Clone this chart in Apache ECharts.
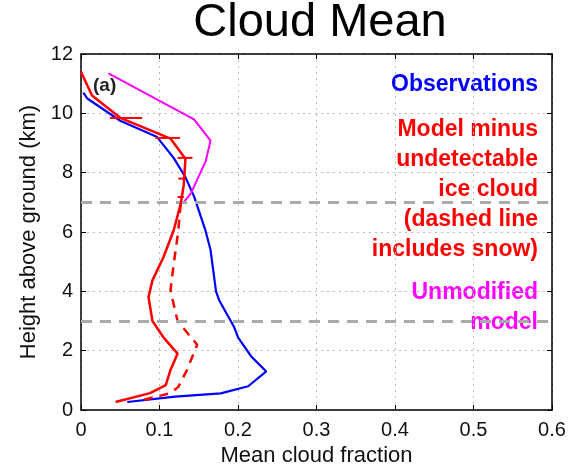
<!DOCTYPE html>
<html>
<head>
<meta charset="utf-8">
<script src="https://cdn.jsdelivr.net/npm/echarts@6/dist/echarts.min.js"></script>
<style>
html,body{margin:0;padding:0;background:#fff;}
#chart{width:573px;height:472px;}
</style>
</head>
<body>
<div id="chart"></div>
<script>
// ---- data (x = mean cloud fraction, y = height km) ----
var obsX = [0.003, 0.008, 0.05, 0.097, 0.118, 0.133, 0.144, 0.158, 0.165, 0.172, 0.176, 0.195, 0.2, 0.217, 0.236, 0.213, 0.178, 0.12, 0.059];
var obsY = [10.7, 10.5, 9.75, 9.2, 8.5, 7.85, 7.2, 6.1, 5.4, 4.0, 3.7, 2.8, 2.45, 1.8, 1.3, 0.8, 0.56, 0.45, 0.27];

var modX = [0.0, 0.014, 0.05, 0.114, 0.133, 0.131, 0.127, 0.118, 0.105, 0.091, 0.086, 0.091, 0.105, 0.123, 0.114, 0.108, 0.088, 0.044];
var modY = [11.4, 10.6, 9.85, 9.15, 8.47, 7.6, 6.95, 6.05, 5.15, 4.37, 3.8, 3.0, 2.45, 1.9, 1.35, 0.84, 0.57, 0.27];

var snowX = [0.127, 0.124, 0.118, 0.114, 0.123, 0.148, 0.135, 0.124, 0.114, 0.072];
var snowY = [6.95, 6.05, 4.9, 4.03, 3.0, 2.2, 1.35, 0.78, 0.57, 0.29];

var unmodX = [0.035, 0.144, 0.165, 0.159, 0.14, 0.129];
var unmodY = [11.35, 9.8, 9.08, 8.4, 7.3, 6.95];

var errY  = [9.84, 9.17, 8.5, 7.8, 7.18];
var errLo = [0.037, 0.095, 0.123, 0.124, 0.123];
var errHi = [0.078, 0.126, 0.142, 0.133, 0.131];

var refLines = [7, 3];

var xTicks = [0, 0.1, 0.2, 0.3, 0.4, 0.5, 0.6];
var yTicks = [0, 2, 4, 6, 8, 10, 12];

var titleText = 'Cloud Mean';
var xName = 'Mean cloud fraction';
var yName = 'Height above ground (km)';
var panelText = '(a)';
var obsLabel = ['Observations'];
var modLabel = ['Model minus', 'undetectable', 'ice cloud', '(dashed line', 'includes snow)'];
var unmodLabel = ['Unmodified', 'model'];

function pairs(xs, ys){ return xs.map(function(x,i){ return [x, ys[i]]; }); }

var FONT = "'Liberation Sans', Arial, Helvetica, sans-serif";
var chart = echarts.init(document.getElementById('chart'), null, {renderer:'canvas'});

var grid = {left:81, right:21, top:54, bottom:61, show:false};

function textEl(txt, x, y, color, size, weight, align){
  return {type:'text', x:x, y:y, style:{text:txt, fill:color, font:(weight||'normal')+' '+size+'px '+FONT, textAlign:align||'right', textVerticalAlign:'middle'}};
}

var graphics = [];
graphics.push(textEl(titleText, 320, 23, '#000', 47, 'normal', 'center'));
graphics.push(textEl(panelText, 93, 86, '#222', 19, 'bold', 'left'));
obsLabel.forEach(function(t,i){ graphics.push(textEl(t, 538, 85 + i*30, '#0000ff', 23, 'bold')); });
modLabel.forEach(function(t,i){ graphics.push(textEl(t, 538, 130 + i*30, '#ff0000', 23, 'bold')); });
unmodLabel.forEach(function(t,i){ graphics.push(textEl(t, 538, 293 + i*30, '#ff00ff', 23, 'bold')); });

var axisCommon = {
  axisLine:{show:true, onZero:false, lineStyle:{color:'#000', width:1.5}},
  axisTick:{show:true, inside:true, length:5, lineStyle:{color:'#000'}},
};

var option = {
  animation:false,
  backgroundColor:'#fff',
  grid: grid,
  graphic: graphics,
  xAxis: [{
    type:'value', min:0, max:0.6, interval:0.1, position:'bottom',
    axisLine:axisCommon.axisLine, axisTick:axisCommon.axisTick,
    axisLabel:{color:'#111', fontSize:20, fontFamily:FONT, margin:10,
      formatter:function(v){ var s = xTicks.filter(function(t){return Math.abs(t-v)<1e-9;}); return s.length? String(+s[0].toFixed(1)) : ''; }},
    splitLine:{show:true, lineStyle:{color:'#bbb', type:[2,4], width:1}},
    name:xName, nameLocation:'middle', nameGap:35,
    nameTextStyle:{color:'#111', fontSize:22, fontFamily:FONT}
  },{
    type:'value', min:0, max:0.6, interval:0.1, position:'top',
    axisLine:axisCommon.axisLine, axisTick:axisCommon.axisTick,
    axisLabel:{show:false}, splitLine:{show:false}
  }],
  yAxis: [{
    type:'value', min:0, max:12, interval:2, position:'left',
    axisLine:axisCommon.axisLine, axisTick:axisCommon.axisTick,
    axisLabel:{color:'#111', fontSize:20, fontFamily:FONT, margin:8},
    splitLine:{show:true, lineStyle:{color:'#bbb', type:[2,4], width:1}},
    name:yName, nameLocation:'middle', nameGap:38,
    nameTextStyle:{color:'#111', fontSize:22, fontFamily:FONT}
  },{
    type:'value', min:0, max:12, interval:2, position:'right',
    axisLine:axisCommon.axisLine, axisTick:axisCommon.axisTick,
    axisLabel:{show:false}, splitLine:{show:false}
  }],
  series: [
    {
      type:'line', name:'ref', data:[], silent:true,
      markLine:{silent:true, symbol:['none','none'], label:{show:false},
        lineStyle:{color:'#aaa', width:3, type:[11,8]},
        data: refLines.map(function(v){ return {yAxis:v}; })}
    },
    {type:'line', name:'Observations', data:pairs(obsX, obsY), showSymbol:false, symbol:'none',
      lineStyle:{color:'#0000ff', width:2.2}, z:3},
    {type:'line', name:'Unmodified', data:pairs(unmodX, unmodY), showSymbol:false, symbol:'none',
      lineStyle:{color:'#ff00ff', width:2}, z:3},
    {type:'line', name:'Snow', data:pairs(snowX, snowY), showSymbol:false, symbol:'none',
      lineStyle:{color:'#ff0000', width:2.5, type:[9,7]}, z:4},
    {type:'line', name:'Model', data:pairs(modX, modY), showSymbol:false, symbol:'none',
      lineStyle:{color:'#ff0000', width:2.5}, z:5},
    {type:'custom', name:'err', z:6,
      data: errY.map(function(y,i){ return [errLo[i], errHi[i], y]; }),
      renderItem:function(params, api){
        var p1 = api.coord([api.value(0), api.value(2)]);
        var p2 = api.coord([api.value(1), api.value(2)]);
        return {type:'line', shape:{x1:p1[0], y1:p1[1], x2:p2[0], y2:p2[1]}, style:{stroke:'#ff0000', lineWidth:2}};
      },
      encode:{x:[0,1], y:2}
    }
  ]
};
chart.setOption(option);
</script>
</body>
</html>
